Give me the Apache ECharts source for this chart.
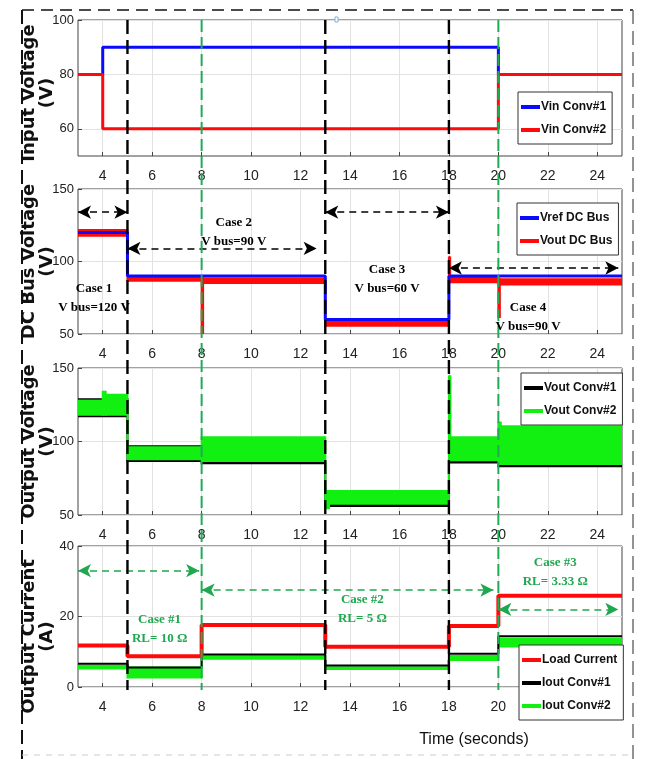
<!DOCTYPE html>
<html>
<head>
<meta charset="utf-8">
<script src="https://cdn.jsdelivr.net/npm/echarts@6/dist/echarts.min.js"></script>
<style>
  html, body { margin: 0; padding: 0; background: #fff; }
  #main { width: 654px; height: 759px; }
</style>
</head>
<body>
<div id="main"></div>
<script>
// time axis
const xTicks = [4, 6, 8, 10, 12, 14, 16, 18, 20, 22, 24];
const yTicksVin = [60, 80, 100];
const yTicksBus = [50, 100, 150];
const yTicksOut = [50, 100, 150];
const yTicksCur = [0, 20, 40];

// panel 1: input voltages
const vinConv1 = [[3, 80], [4, 80], [4, 90], [20, 90], [20, 80], [25, 80]];
const vinConv2 = [[3, 80], [4, 80], [4, 60], [20, 60], [20, 80], [25, 80]];

// panel 2: dc bus (bands are [t0, t1, low, high])
const vrefBus = [[3, 120], [5, 120], [5, 90], [13, 90], [13, 60], [18, 60], [18, 90], [25, 90]];
const voutBusBand = [[3, 5, 117, 122.5], [5, 8, 86, 90.5], [8, 8.06, 50, 89], [8.06, 13, 84.5, 89],
  [13, 18, 55, 59], [18, 18.05, 85, 103.5], [18.05, 20, 85, 89.3], [20, 20.06, 61, 88.5], [20.06, 25, 83.5, 88.5]];

// panel 3: converter output voltages
const vout1Band = [[3, 5, 116.5, 129.5], [5, 8, 86, 97.5], [8, 13, 84.5, 87], [13, 18, 55.5, 58],
  [18, 20, 85, 87], [20, 25, 82.5, 84.5]];
const vout2Band = [[3, 4, 117.5, 128.5], [4, 4.12, 117.5, 134.5], [4.12, 5, 117.5, 132.5], [5, 8, 87.2, 96.8],
  [8, 13, 86, 103.5], [13, 13.15, 54, 67], [13.15, 18, 57, 67], [18, 18.06, 86.5, 145],
  [18.06, 20, 86.5, 103.5], [20, 20.1, 84, 113.5], [20.1, 25, 84, 111]];

// panel 4: currents
const loadCurrent = [[3, 11.8], [5, 11.8], [5, 8.7], [8, 8.7], [8, 17.6], [13, 17.6], [13, 11.4],
  [18, 11.4], [18, 17.3], [20, 17.3], [20, 25.9], [25, 25.9]];
const iout1 = [[3, 6.6], [5, 6.6], [5, 5.5], [8, 5.5], [8, 9.2], [13, 9.2], [13, 6.1], [18, 6.1],
  [18, 9.4], [20, 9.4], [20, 14.4], [25, 14.4]];
const iout2Band = [[3, 5, 5.0, 6.3], [5, 8, 2.4, 5.8], [8, 13, 7.7, 9.0], [13, 18, 4.8, 5.9],
  [18, 20, 7.4, 9.1], [20, 25, 11.2, 14.0]];

// events and annotations
const blackEvents = [5, 13, 18];
const greenEvents = [8, 20];
const busArrows = [[3, 5, 134], [5, 12.65, 109], [13, 18, 134], [18, 24.85, 95.5]];
const loadArrows = [[3, 7.9, 33], [8, 19.8, 27.5], [20, 24.85, 22]];
const busNotes = [
  [3.65, 75, 'Case 1\nV bus=120 V'],
  [9.3, 120, 'Case 2\nV bus=90 V'],
  [15.5, 88, 'Case 3\nV bus=60 V'],
  [21.2, 61.5, 'Case 4\nV bus=90 V']
];
const loadNotes = [
  [6.3, 16.5, 'Case #1\nRL= 10 Ω'],
  [14.5, 22.1, 'Case #2\nRL= 5 Ω'],
  [22.3, 32.6, 'Case #3\nRL= 3.33 Ω']
];

const SANS = "'Liberation Sans', Arial, sans-serif";
const RED = '#ff0a0a', BLUE = '#0a0aff', GREEN = '#12f012', DKGREEN = '#1fa84f';

const chart = echarts.init(document.getElementById('main'));

function band(segs, color) {
  return function (params, api) {
    const s = segs[params.dataIndex];
    const a = api.coord([s[0], s[3]]);
    const b = api.coord([s[1], s[2]]);
    const kids = [{ type: 'rect', shape: { x: a[0], y: a[1], width: b[0] - a[0], height: b[1] - a[1] }, style: { fill: color } }];
    const n = segs[params.dataIndex + 1];
    if (n && n[0] === s[1]) {
      const c = api.coord([s[1], Math.max(s[3], n[3])]);
      const d = api.coord([s[1], Math.min(s[2], n[2])]);
      kids.push({ type: 'rect', shape: { x: c[0] - 1, y: c[1], width: 2, height: d[1] - c[1] }, style: { fill: color } });
    }
    return { type: 'group', children: kids };
  };
}

function arrows(list, color) {
  return {
    silent: true,
    symbol: ['arrow', 'arrow'],
    symbolSize: [10, 13],
    label: { show: false },
    lineStyle: { color: color, type: [7, 5], width: 1.6 },
    data: list.map(a => [{ coord: [a[0], a[2]] }, { coord: [a[1], a[2]] }])
  };
}

const tops = [20, 189, 368, 546];
const heights = [136, 145, 147, 141];
const yRanges = [[50, 100], [50, 150], [50, 150], [0, 40]];
const yTicks = [yTicksVin, yTicksBus, yTicksOut, yTicksCur];
const yNames = ['Input Voltage\n(V)', 'DC Bus Voltage\n(V)', 'Output Voltage\n(V)', 'Output Current\n(A)'];
const namePads = [[0, 10, 0, 0], 0, 0, [0, 40, 0, 0]];

const legendBase = {
  orient: 'vertical',
  icon: 'rect',
  itemWidth: 19,
  itemHeight: 4,
  itemGap: 11,
  padding: [9, 6, 8, 3],
  backgroundColor: '#fff',
  borderColor: '#333',
  borderWidth: 1,
  borderRadius: 0,
  z: 20,
  textStyle: { fontFamily: SANS, fontSize: 12, fontWeight: 'bold', color: '#111', padding: [0, 0, 0, -4] }
};

const option = {
  animation: false,
  backgroundColor: '#fff',
  grid: tops.map((t, i) => ({
    left: 78, right: 32, top: t, height: heights[i],
    show: true, borderColor: '#444', borderWidth: 1, backgroundColor: 'transparent'
  })),
  xAxis: tops.map((t, i) => ({
    type: 'value', gridIndex: i, min: 3, max: 25,
    axisLine: { show: false },
    axisTick: { inside: true, length: 4, customValues: xTicks, lineStyle: { color: '#444' } },
    axisLabel: { customValues: xTicks, margin: 13, fontFamily: SANS, fontSize: 14, color: '#222' },
    splitLine: { show: true, lineStyle: { color: '#e2e2e2', width: 1 } }
  })),
  yAxis: tops.map((t, i) => ({
    type: 'value', gridIndex: i, min: yRanges[i][0], max: yRanges[i][1],
    name: yNames[i], nameLocation: 'middle', nameRotate: 90, nameGap: 22, nameMoveOverlap: false,
    nameTextStyle: {
      fontFamily: 'DejaVu Sans', fontWeight: 'bold', fontSize: 18, lineHeight: 18, color: '#111',
      padding: namePads[i]
    },
    axisLine: { show: false },
    axisTick: { inside: true, length: 4, customValues: yTicks[i], lineStyle: { color: '#444' } },
    axisLabel: { customValues: yTicks[i], margin: 4, fontFamily: SANS, fontSize: 13, color: '#222' },
    splitLine: { show: true, lineStyle: { color: '#e2e2e2', width: 1 } }
  })),
  legend: [
    Object.assign({}, legendBase, { left: 518, top: 92, data: ['Vin Conv#1', 'Vin Conv#2'] }),
    Object.assign({}, legendBase, { left: 517, top: 203, data: ['Vref DC Bus', 'Vout DC Bus'] }),
    Object.assign({}, legendBase, { left: 521, top: 373, data: ['Vout Conv#1', 'Vout Conv#2'] }),
    Object.assign({}, legendBase, { left: 519, top: 645, data: ['Load Current', 'Iout Conv#1', 'Iout Conv#2'] })
  ],
  series: [
    { name: 'Vin Conv#1', type: 'line', xAxisIndex: 0, yAxisIndex: 0, data: vinConv1, showSymbol: false,
      lineStyle: { color: BLUE, width: 3 }, itemStyle: { color: BLUE } },
    { name: 'Vin Conv#2', type: 'line', xAxisIndex: 0, yAxisIndex: 0, data: vinConv2, showSymbol: false,
      lineStyle: { color: RED, width: 3 }, itemStyle: { color: RED } },

    { name: 'Vref DC Bus', type: 'line', xAxisIndex: 1, yAxisIndex: 1, data: vrefBus, showSymbol: false,
      lineStyle: { color: BLUE, width: 3 }, itemStyle: { color: BLUE }, markLine: arrows(busArrows, '#000') },
    { name: 'Vout DC Bus', type: 'custom', z: 3, xAxisIndex: 1, yAxisIndex: 1, data: voutBusBand,
      encode: { x: [0, 1], y: [2, 3] }, renderItem: band(voutBusBand, RED), itemStyle: { color: RED }, clip: true },

    { name: 'Vout Conv#1', type: 'custom', z: 3, xAxisIndex: 2, yAxisIndex: 2, data: vout1Band,
      encode: { x: [0, 1], y: [2, 3] }, renderItem: band(vout1Band, '#000'), itemStyle: { color: '#000' }, clip: true },
    { name: 'Vout Conv#2', type: 'custom', z: 3, xAxisIndex: 2, yAxisIndex: 2, data: vout2Band,
      encode: { x: [0, 1], y: [2, 3] }, renderItem: band(vout2Band, GREEN), itemStyle: { color: GREEN }, clip: true },

    { name: 'Iout Conv#1', type: 'line', xAxisIndex: 3, yAxisIndex: 3, data: iout1, showSymbol: false,
      lineStyle: { color: '#000', width: 2 }, itemStyle: { color: '#000' } },
    { name: 'Iout Conv#2', type: 'custom', z: 3, xAxisIndex: 3, yAxisIndex: 3, data: iout2Band,
      encode: { x: [0, 1], y: [2, 3] }, renderItem: band(iout2Band, GREEN), itemStyle: { color: GREEN }, clip: true },
    { name: 'Load Current', type: 'line', z: 4, xAxisIndex: 3, yAxisIndex: 3, data: loadCurrent, showSymbol: false,
      lineStyle: { color: RED, width: 4 }, itemStyle: { color: RED }, markLine: arrows(loadArrows, DKGREEN) }
  ]
};

chart.setOption(option);

// vertical event lines, annotation text and frame
const yTop = chart.convertToPixel({ yAxisIndex: 0 }, 100);
const yBot = chart.convertToPixel({ yAxisIndex: 3 }, 0);
const graphics = [];
blackEvents.forEach(t => {
  const x = chart.convertToPixel({ xAxisIndex: 0 }, t);
  graphics.push({ type: 'line', z: 30, shape: { x1: x, y1: yTop, x2: x, y2: yBot + 3 },
    style: { stroke: '#000', lineWidth: 2.4, lineDash: [14, 6] } });
});
greenEvents.forEach(t => {
  const x = chart.convertToPixel({ xAxisIndex: 0 }, t);
  graphics.push({ type: 'line', z: 30, shape: { x1: x, y1: yTop, x2: x, y2: yBot + 3 },
    style: { stroke: '#22aa55', lineWidth: 2, lineDash: [12, 5] } });
});
busNotes.forEach(n => {
  const p = chart.convertToPixel({ gridIndex: 1 }, [n[0], n[1]]);
  graphics.push({ type: 'text', z: 31, x: p[0], y: p[1],
    style: { text: n[2], font: "bold 13px 'Liberation Serif', serif", fill: '#000', align: 'center', verticalAlign: 'middle', lineHeight: 19 } });
});
loadNotes.forEach(n => {
  const p = chart.convertToPixel({ gridIndex: 3 }, [n[0], n[1]]);
  graphics.push({ type: 'text', z: 31, x: p[0], y: p[1],
    style: { text: n[2], font: "bold 13px 'Liberation Serif', serif", fill: DKGREEN, align: 'center', verticalAlign: 'middle', lineHeight: 19 } });
});
graphics.push(
  { type: 'text', z: 31, x: 474, y: 740,
    style: { text: 'Time (seconds)', font: "16px " + SANS, fill: '#111', align: 'center', verticalAlign: 'middle' } },
  { type: 'line', shape: { x1: 22, y1: 10, x2: 633, y2: 10 }, style: { stroke: '#111', lineWidth: 1.6, lineDash: [12, 7] } },
  { type: 'line', shape: { x1: 22, y1: 10, x2: 22, y2: 759 }, style: { stroke: '#111', lineWidth: 2, lineDash: [14, 6] } },
  { type: 'line', shape: { x1: 633, y1: 10, x2: 633, y2: 759 }, style: { stroke: '#666', lineWidth: 1.4, lineDash: [14, 7] } },
  { type: 'line', shape: { x1: 22, y1: 755, x2: 633, y2: 755 }, style: { stroke: '#ccc', lineWidth: 1, lineDash: [6, 6] } },
  { type: 'rect', shape: { x: 335, y: 17, width: 3, height: 5 }, style: { fill: '#fff', stroke: '#7fb4e6', lineWidth: 1 } }
);
chart.setOption({ graphic: graphics });
</script>
</body>
</html>
